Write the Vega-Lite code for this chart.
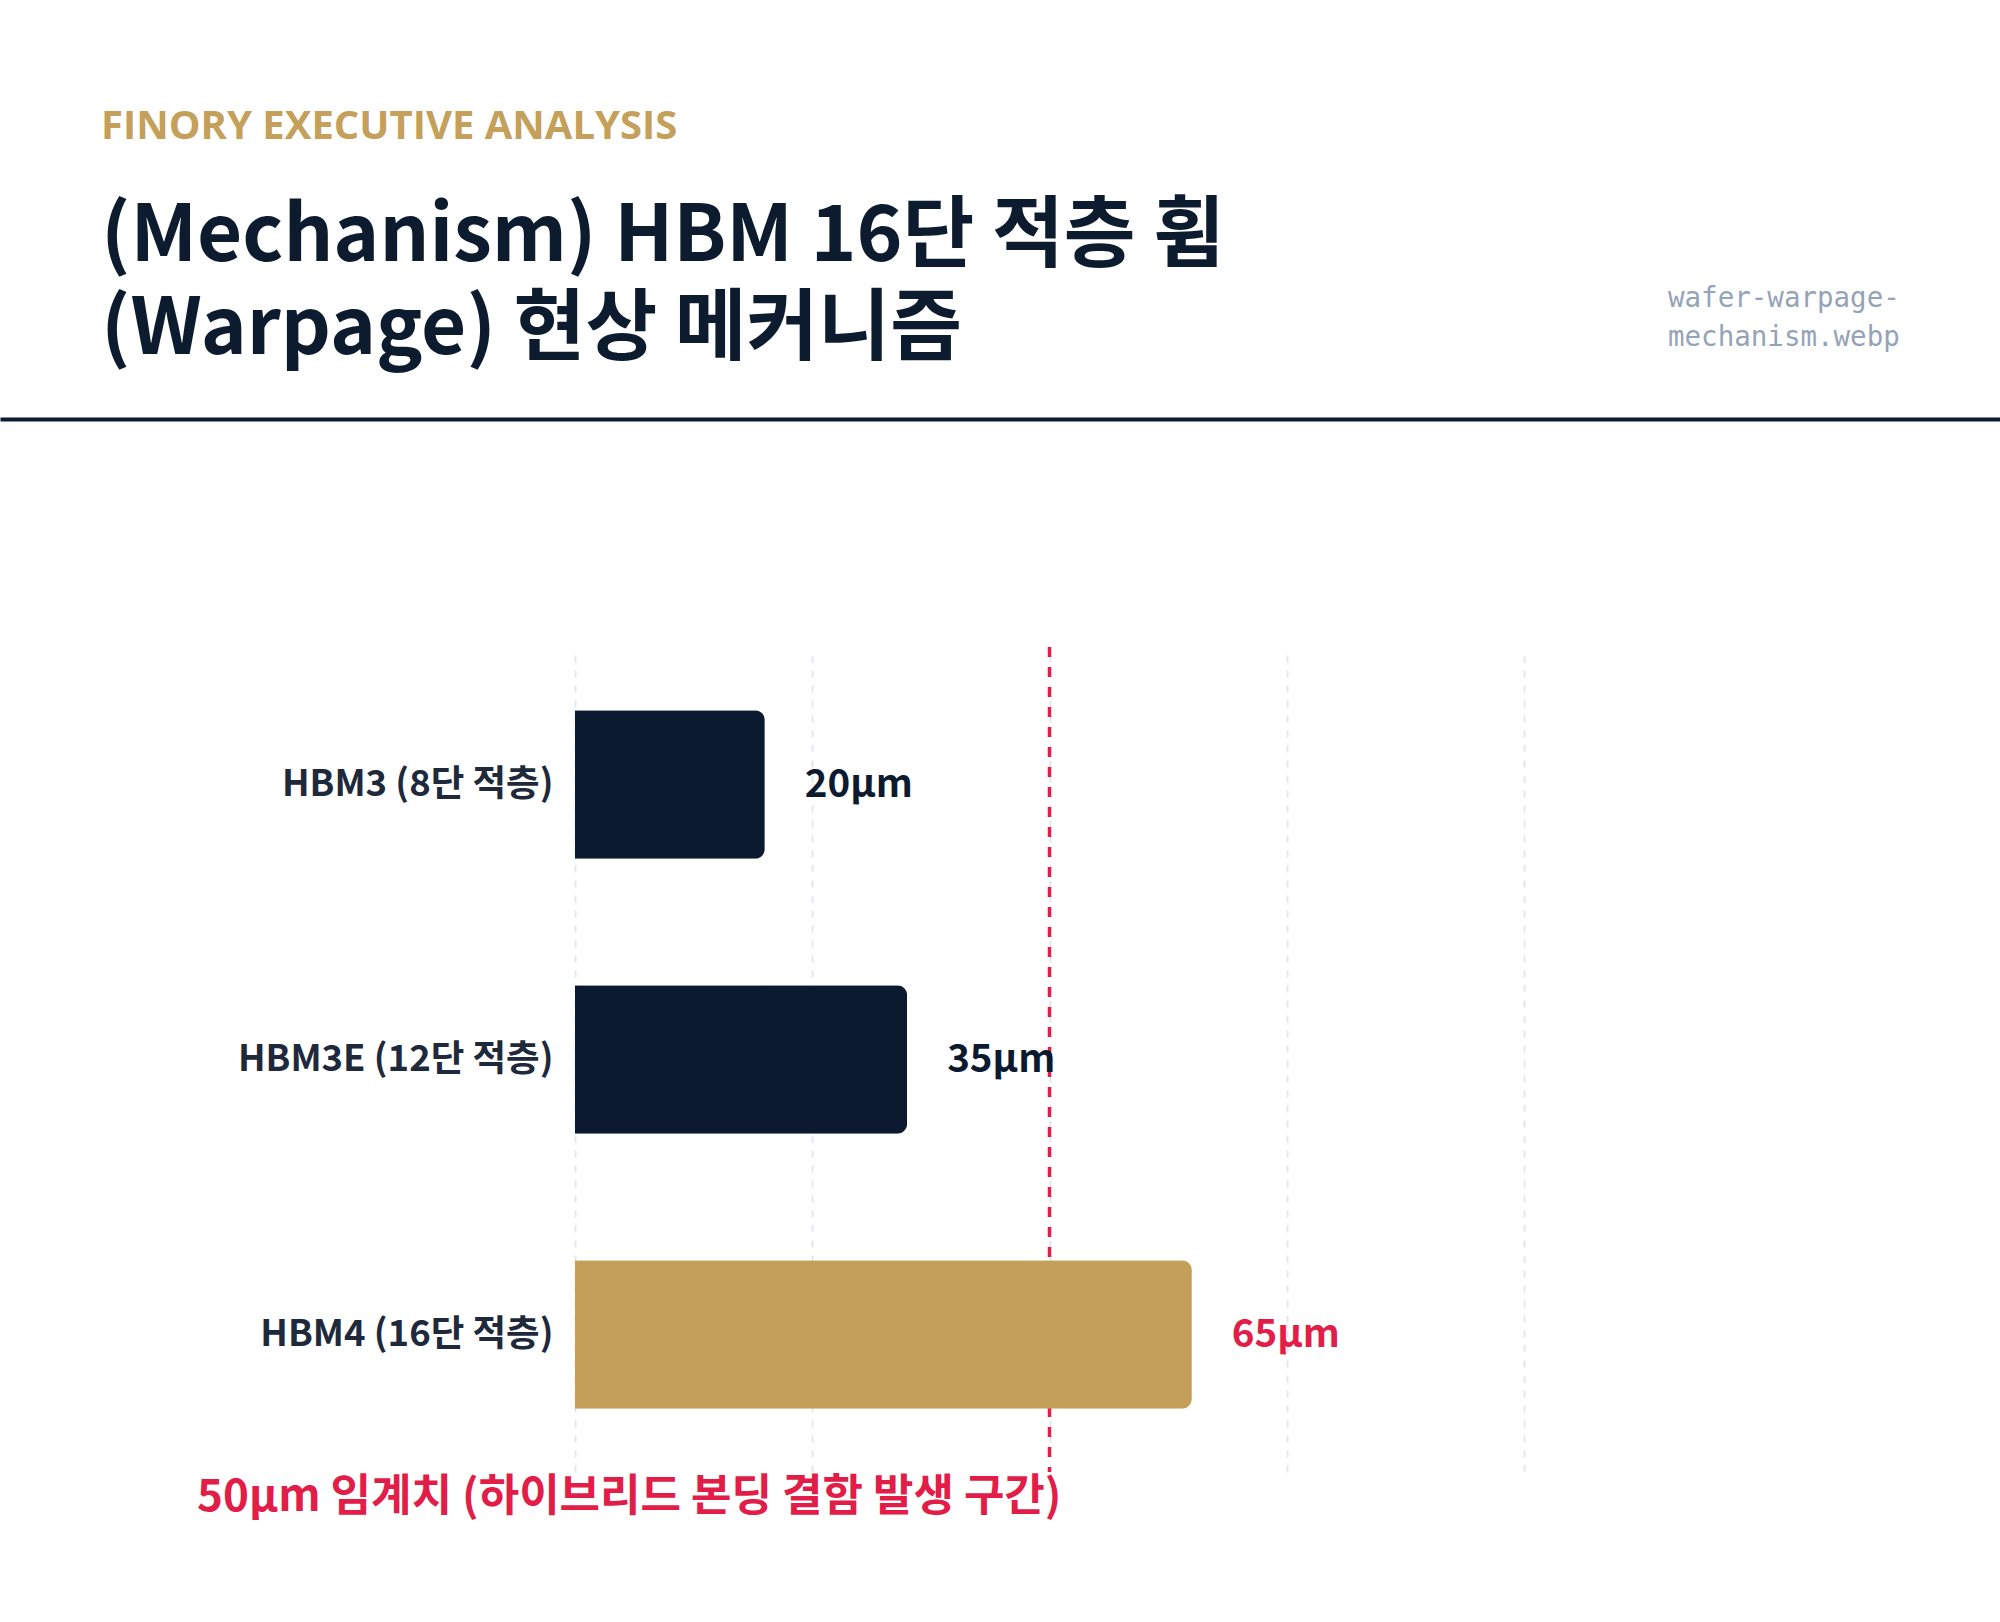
{
  "$schema": "https://vega.github.io/schema/vega-lite/v6.json",
  "background": "white",
  "padding": {"left": 0, "top": 107, "right": 0, "bottom": 0},
  "autosize": {"type": "pad"},
  "columns": 1,
  "spacing": 16,
  "bounds": "full",
  "config": {
    "view": {"stroke": null},
    "font": "'Noto Sans CJK KR', sans-serif"
  },
  "concat": [
    {
      "spacing": 0,
      "hconcat": [
        {
          "width": 1668,
          "height": 1,
          "data": {"values": []},
          "mark": "text",
          "title": {
            "text": "FINORY EXECUTIVE ANALYSIS",
            "subtitle": ["(Mechanism) HBM 16단 적층 휨", "(Warpage) 현상 메커니즘"],
            "anchor": "start",
            "frame": "group",
            "dx": 101,
            "offset": 32,
            "font": "'Open Sans', 'Noto Sans CJK KR', sans-serif",
            "fontSize": 40,
            "fontWeight": 700,
            "color": "#c4a05a",
            "subtitleFont": "'Noto Sans CJK KR', sans-serif",
            "subtitleFontSize": 78,
            "subtitleFontWeight": 700,
            "subtitleColor": "#0d1b2f",
            "subtitleLineHeight": 93,
            "subtitlePadding": 52
          }
        },
        {
          "width": 332,
          "height": 1,
          "data": {"values": []},
          "mark": "text",
          "title": {
            "text": ["wafer-warpage-", "mechanism.webp"],
            "anchor": "start",
            "frame": "group",
            "offset": 51,
            "font": "DejaVu Sans Mono",
            "fontSize": 27.5,
            "fontWeight": "normal",
            "color": "#94a3b8",
            "lineHeight": 39
          }
        }
      ]
    },
    {
      "width": 2000,
      "height": 210,
      "data": {"values": []},
      "mark": "text",
      "encoding": {
        "x": {
          "field": "v",
          "type": "quantitative",
          "scale": {"domain": [0, 1]},
          "axis": {
            "orient": "top",
            "domain": true,
            "domainColor": "#0d1b2f",
            "domainWidth": 4,
            "ticks": false,
            "labels": false,
            "grid": false,
            "title": null
          }
        }
      }
    },
    {
      "width": 2000,
      "height": 825,
      "data": {
        "values": [
          {"model": "HBM3 (8단 적층)", "warpage": 20, "label": "20µm", "status": "정상"},
          {"model": "HBM3E (12단 적층)", "warpage": 35, "label": "35µm", "status": "정상"},
          {"model": "HBM4 (16단 적층)", "warpage": 65, "label": "65µm", "status": "초과"}
        ]
      },
      "resolve": {"scale": {"color": "independent"}},
      "layer": [
        {
          "data": {"values": [{"threshold": 50}]},
          "mark": {"type": "rule", "color": "#e11d48", "strokeWidth": 3.5, "strokeDash": [10, 10]},
          "encoding": {
            "x": {"field": "threshold", "type": "quantitative", "scale": {"domain": [0, 100], "range": [575, 1524]}}
          }
        },
        {
          "mark": {"type": "bar", "cornerRadiusEnd": 10},
          "encoding": {
            "y": {
              "field": "model",
              "type": "nominal",
              "sort": null,
              "scale": {"paddingInner": 0.46, "paddingOuter": 0.23},
              "axis": {
                "title": null,
                "domain": false,
                "ticks": false,
                "offset": -575,
                "labelPadding": 22,
                "labelFontSize": 36.5,
                "labelFontWeight": "bold",
                "labelColor": "#1e293b",
                "labelLimit": 0
              }
            },
            "x": {
              "field": "warpage",
              "type": "quantitative",
              "scale": {"domain": [0, 100], "range": [575, 1524]},
              "axis": {
                "orient": "bottom",
                "values": [0, 25, 50, 75, 100],
                "grid": true,
                "gridDash": [7, 8],
                "gridColor": "#e2e8f0",
                "gridWidth": 2,
                "domain": false,
                "ticks": false,
                "labels": false,
                "title": null
              }
            },
            "color": {
              "field": "status",
              "type": "nominal",
              "scale": {"domain": ["정상", "초과"], "range": ["#0c1a30", "#c49f5a"]},
              "legend": null
            }
          }
        },
        {
          "mark": {"type": "text", "align": "left", "baseline": "middle", "dx": 40, "fontSize": 38.5, "fontWeight": "bold"},
          "encoding": {
            "y": {"field": "model", "type": "nominal", "sort": null},
            "x": {"field": "warpage", "type": "quantitative", "scale": {"domain": [0, 100], "range": [575, 1524]}},
            "text": {"field": "label"},
            "color": {
              "field": "status",
              "type": "nominal",
              "scale": {"domain": ["정상", "초과"], "range": ["#0c1a30", "#e11d48"]},
              "legend": null
            }
          }
        },
        {
          "data": {"values": [{"threshold": 50, "note": "50µm 임계치 (하이브리드 본딩 결함 발생 구간)"}]},
          "mark": {"type": "text", "align": "right", "baseline": "middle", "dx": 12, "dy": 26, "fontSize": 44, "fontWeight": "bold", "color": "#e11d48"},
          "encoding": {
            "x": {"field": "threshold", "type": "quantitative", "scale": {"domain": [0, 100], "range": [575, 1524]}},
            "y": {"value": "height"},
            "text": {"field": "note"}
          }
        }
      ]
    }
  ]
}
